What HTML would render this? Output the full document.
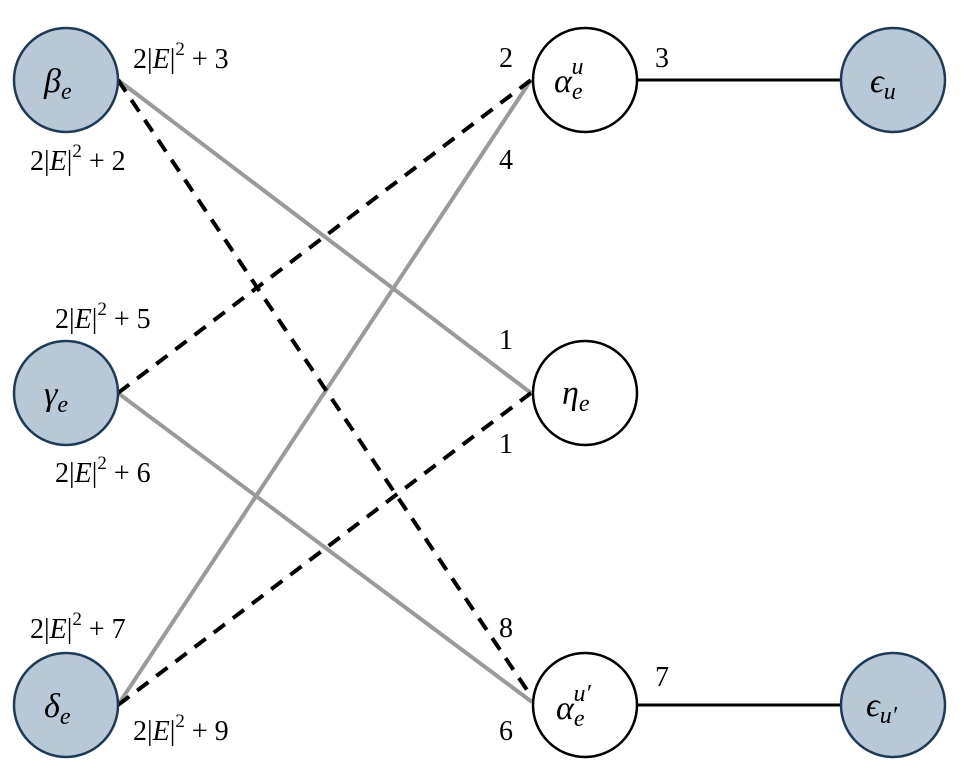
<!DOCTYPE html>
<html><head><meta charset="utf-8"><style>
body{margin:0;background:#fff;}
svg text{font-family:"Liberation Serif",serif;fill:#000;}
.n{font-size:34px;font-style:italic;}
.l{font-size:28px;}
</style></head><body>
<svg width="969" height="775" viewBox="0 0 969 775" xmlns="http://www.w3.org/2000/svg">
<g stroke-width="4" fill="none">
<line x1="118" y1="80" x2="531" y2="393" stroke="#9a9a9a"/>
<line x1="118" y1="393" x2="532" y2="702" stroke="#9a9a9a"/>
<line x1="118" y1="705" x2="531" y2="80" stroke="#9a9a9a"/>
<line x1="118" y1="80" x2="529" y2="693" stroke="#000" stroke-dasharray="14,10"/>
<line x1="118" y1="393" x2="531" y2="80" stroke="#000" stroke-dasharray="14,10"/>
<line x1="118" y1="705" x2="531" y2="393" stroke="#000" stroke-dasharray="14,10"/>
<line x1="637" y1="80" x2="841" y2="80" stroke="#000" stroke-width="3"/>
<line x1="637" y1="705" x2="841" y2="705" stroke="#000" stroke-width="3"/>
</g>
<g stroke="#1f3a55" stroke-width="2.5" fill="#b8c8d6">
<circle cx="66" cy="80" r="52"/><circle cx="66" cy="393" r="52"/><circle cx="66" cy="705" r="52"/>
<circle cx="893" cy="80" r="52"/><circle cx="893" cy="705" r="52"/>
</g>
<g stroke="#000" stroke-width="2.5" fill="#fff">
<circle cx="585" cy="80" r="52"/><circle cx="585" cy="393" r="52"/><circle cx="585" cy="705" r="52"/>
</g>
<text class="n" x="44" y="92">β<tspan font-size="24" dy="7">e</tspan></text>
<text class="n" x="44" y="405">γ<tspan font-size="24" dy="7">e</tspan></text>
<text class="n" x="44" y="717">δ<tspan font-size="24" dy="7">e</tspan></text>
<text class="n" x="554" y="92">α<tspan font-size="24" dy="7">e</tspan><tspan font-size="24" dx="-11" dy="-25">u</tspan></text>
<text class="n" x="562" y="404">η<tspan font-size="24" dy="7">e</tspan></text>
<text class="n" x="556" y="719">α<tspan font-size="24" dy="7">e</tspan><tspan font-size="24" dx="-11" dy="-25">u′</tspan></text>
<text class="n" x="870" y="92">ϵ<tspan font-size="24" dy="7">u</tspan></text>
<text class="n" x="866" y="716">ϵ<tspan font-size="24" dy="7">u′</tspan></text>
<g class="l">
<text x="133" y="68">2|<tspan font-style="italic">E</tspan>|<tspan font-size="19" dy="-13">2</tspan><tspan dy="13"> + 3</tspan></text>
<text x="30" y="170">2|<tspan font-style="italic">E</tspan>|<tspan font-size="19" dy="-13">2</tspan><tspan dy="13"> + 2</tspan></text>
<text x="55" y="328">2|<tspan font-style="italic">E</tspan>|<tspan font-size="19" dy="-13">2</tspan><tspan dy="13"> + 5</tspan></text>
<text x="55" y="482">2|<tspan font-style="italic">E</tspan>|<tspan font-size="19" dy="-13">2</tspan><tspan dy="13"> + 6</tspan></text>
<text x="30" y="638">2|<tspan font-style="italic">E</tspan>|<tspan font-size="19" dy="-13">2</tspan><tspan dy="13"> + 7</tspan></text>
<text x="133" y="740">2|<tspan font-style="italic">E</tspan>|<tspan font-size="19" dy="-13">2</tspan><tspan dy="13"> + 9</tspan></text>
<text x="499" y="67">2</text>
<text x="499" y="169">4</text>
<text x="655" y="67">3</text>
<text x="499" y="349">1</text>
<text x="499" y="453">1</text>
<text x="499" y="637">8</text>
<text x="499" y="740">6</text>
<text x="655" y="686">7</text>
</g>
</svg>
</body></html>
